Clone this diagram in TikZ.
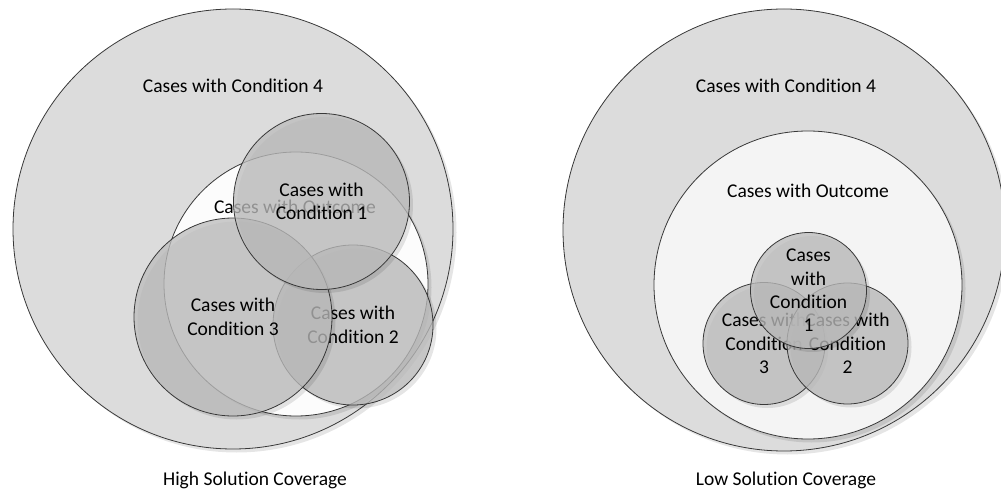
\documentclass[tikz,border=0pt]{standalone}
\usepackage{fontspec}
\setmainfont[Ligatures={NoCommon}]{Carlito}
\usetikzlibrary{shadows}
\definecolor{outerfill}{HTML}{DCDCDC}
\definecolor{condfill}{HTML}{BDBDBD}
\definecolor{edgegray}{HTML}{383838}
\definecolor{outfillA}{HTML}{FCFCFC}
\definecolor{outfillB}{HTML}{F4F4F4}
\begin{document}
\begin{tikzpicture}[x=1pt,y=-1pt,
  every node/.style={font=\fontsize{19.5}{23.4}\selectfont, text=black},
  setdisk/.style={circle, inner sep=0pt, draw=edgegray, line width=0.8pt,
    minimum size=#1, align=center,
    drop shadow={shadow xshift=3.5pt, shadow yshift=-3.5pt, opacity=0.1, fill=black}},
  outerset/.style={setdisk=#1, fill=outerfill},
  outcomeset/.style={setdisk=#1},
  condset/.style={setdisk=#1, fill=condfill, fill opacity=0.77, draw opacity=1, text opacity=1},
  plain/.style={inner sep=0pt}]
\useasboundingbox (0,0) rectangle (1001,494);

% ---- High solution coverage ----
\node[outerset=440pt] (hc4) at (233,229) {};
\node[plain] (hc4t) at (233,86) {Cases with Condition 4};
\node[outcomeset=264pt, fill=outfillA] (hout) at (296,284) {};
\node[plain] (hothan) at (295,207) {Cases with Outcome};
\node[condset=160pt] (hc2) at (353,325) {Cases with\\Condition 2};
\node[condset=198pt] (hc3) at (233,317) {Cases with\\Condition 3};
\node[condset=176pt] (hc1) at (321.5,201.5) {Cases with\\Condition 1};
\node[plain] (hcap) at (255,480) {High Solution Coverage};

% ---- Low solution coverage ----
\node[outerset=442pt] (lc4) at (784,230) {};
\node[plain] (lc4t) at (786,86) {Cases with Condition 4};
\node[outcomeset=308pt, fill=outfillB] (lout) at (808,285) {};
\node[plain] (loutt) at (808,191) {Cases with Outcome};
\node[condset=122pt] (lc3) at (764,343.5) {Cases with\\Condition\\3};
\node[condset=121pt] (lc2) at (847.5,343.5) {Cases with\\Condition\\2};
\node[condset=116pt] (lc1) at (808.5,290.5) {Cases\\with\\Condition\\1};
\node[plain] (lcap) at (786,480) {Low Solution Coverage};
\end{tikzpicture}
\end{document}
